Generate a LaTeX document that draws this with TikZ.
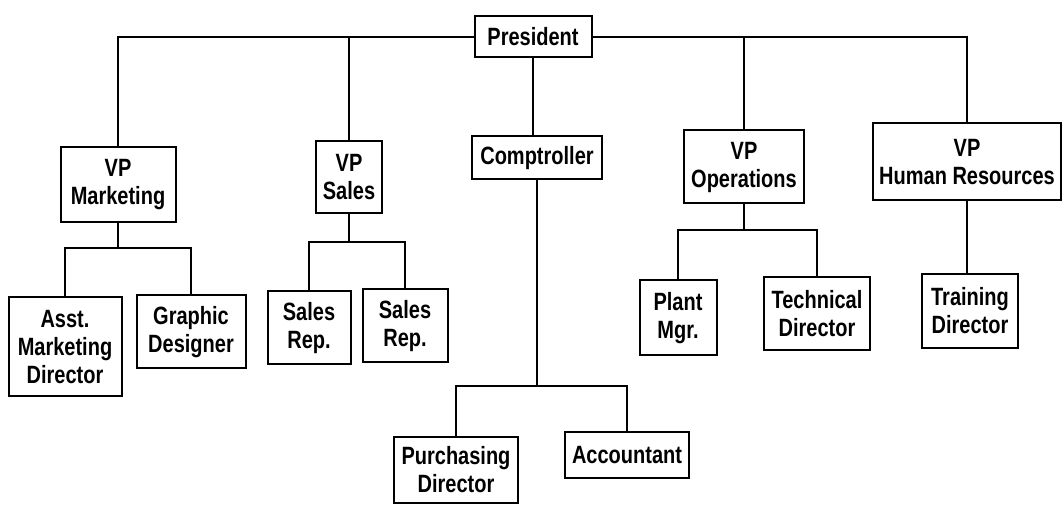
\documentclass[tikz,border=0pt]{standalone}
\usepackage{fontspec}
\setmainfont{Liberation Sans}[FakeStretch=0.8]
\usetikzlibrary{positioning}
\tikzset
{
    postbox/.style = {rectangle, draw=black, align=center, line width=1pt,
                      font=\fontsize{12.5}{14}\selectfont\bfseries,
                      inner xsep=3pt, inner ysep=3pt, anchor=center},
    link/.style = {line width=1pt}
}

\begin{document}
\begin{tikzpicture}[x=0.5pt, y=-0.5pt]
    \useasboundingbox (0,0) rectangle (1062,507);
    % top of the chart
    \node[postbox, minimum width=58.5pt, minimum height=20.5pt] (pres) at (533,37) {President};
    % vice presidents and comptroller
    \node[postbox, minimum width=57.5pt, minimum height=37.5pt] (vpm) at (118,185) {VP\\Marketing};
    \node[postbox, minimum width=33pt, minimum height=36pt] (vps) at (349,177) {VP\\Sales};
    \node[postbox, minimum width=65pt, minimum height=21.5pt] (comp) at (537,158) {Comptroller};
    \node[postbox, minimum width=60pt, minimum height=36.5pt] (vpo) at (744,167) {VP\\Operations};
    \node[postbox, minimum width=92pt, minimum height=38.5pt] (vphr) at (967,162) {VP\\Human Resources};
    % staff
    \node[postbox, minimum width=56.5pt, minimum height=49.5pt] (asst) at (65,347) {Asst.\\Marketing\\Director};
    \node[postbox, minimum width=54.5pt, minimum height=36.5pt] (gd) at (191,332) {Graphic\\Designer};
    \node[postbox, minimum width=41.5pt, minimum height=36.5pt] (repa) at (309,328) {Sales\\Rep.};
    \node[postbox, minimum width=42.5pt, minimum height=36.5pt] (repb) at (405,326) {Sales\\Rep.};
    \node[postbox, minimum width=62pt, minimum height=33pt] (purch) at (456,470) {Purchasing\\Director};
    \node[postbox, minimum width=62pt, minimum height=23pt] (acct) at (627,455) {Accountant};
    \node[postbox, minimum width=38.5pt, minimum height=37.5pt] (plant) at (678,318) {Plant\\Mgr.};
    \node[postbox, minimum width=53pt, minimum height=36.5pt] (tech) at (817,314) {Technical\\Director};
    \node[postbox, minimum width=48pt, minimum height=37pt] (train) at (970,311) {Training\\Director};

    % branch points
    \coordinate (mkbus) at (118,248);
    \coordinate (slbus) at (349,242);
    \coordinate (opbus) at (744,230);
    \coordinate (cpbus) at (537,386);

    % president to the second level
    \draw[link] (pres.west) -| (vpm.north);
    \draw[link] (vps.north) -- (vps.north |- pres.west);
    \draw[link] (pres.east) -| (vphr.north);
    \draw[link] (vpo.north) -- (vpo.north |- pres.east);
    \draw[link] (comp.north -| pres.south) -- (pres.south);
    % second level to the staff
    \draw[link] (vpm.south) -- (mkbus);
    \draw[link] (asst.north) |- (mkbus) -| (gd.north);
    \draw[link] (vps.south) -- (slbus);
    \draw[link] (repa.north) |- (slbus) -| (repb.north);
    \draw[link] (vpo.south) -- (opbus);
    \draw[link] (plant.north) |- (opbus) -| (tech.north);
    \draw[link] (vphr.south) -- (vphr.south |- train.north);
    \draw[link] (comp.south) -- (cpbus);
    \draw[link] (purch.north) |- (cpbus) -| (acct.north);
\end{tikzpicture}
\end{document}
